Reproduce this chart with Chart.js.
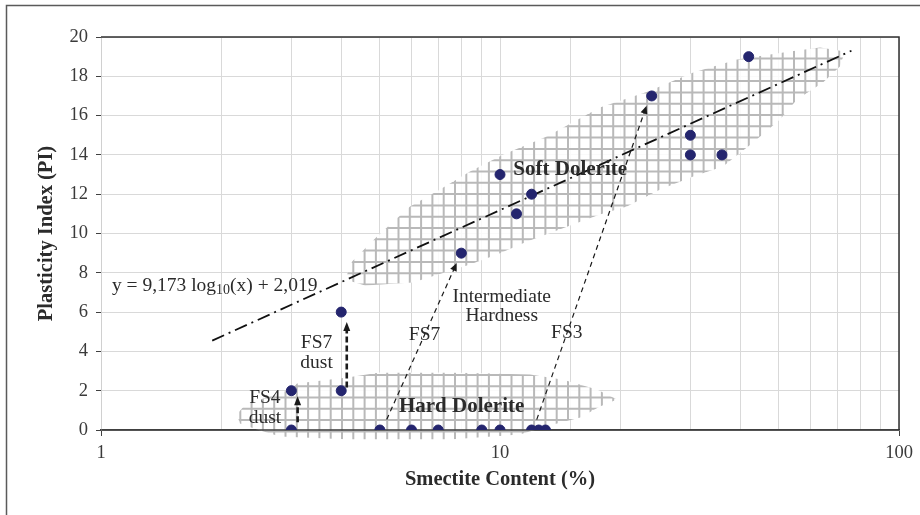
<!DOCTYPE html>
<html lang="en">
<head>
<meta charset="UTF-8">
<title>Plasticity Index vs Smectite Content</title>
<script src="https://cdn.jsdelivr.net/npm/chart.js"></script>
<style>
    body { margin: 0; background: #fff; }
    .chart-box { position: relative; width: 920px; height: 515px; }
</style>
</head>
<body>
<div class="chart-box"><canvas id="piChart"></canvas></div>
<script>
// measured samples
const smectite   = [3, 3, 4, 4, 5, 6, 7, 9, 10, 12, 12.5, 13, 8, 10, 11, 12, 24, 30, 30, 36, 42];
const plasticity = [0, 2, 2, 6, 0, 0, 0, 0, 0, 0, 0, 0, 9, 13, 11, 12, 17, 15, 14, 14, 19];

// fitted line, read at both ends
const trendX = [1.9, 76];
const trendY = [4.55, 19.3];

// outlines of the hatched zones (data units)
const softX = [4.09, 4.26, 4.92, 5.95, 7.07, 8.41, 10.2, 13.1, 17.8, 23.4, 30.5, 39.3, 53.3, 63.4, 73.2,
               71.1, 64.5, 55.5, 50.3, 43.1, 36.2, 30.5, 25.2, 20.8, 17.8, 14.1, 11.7, 9.83, 8.41, 6.05, 4.59];
const softY = [7.66, 8.58, 9.85, 11.37, 12.24, 13.16, 14.02, 14.94, 16.41, 17.22, 18.19, 18.85, 19.26, 19.47, 19.26,
               18.5, 17.68, 16.82, 15.8, 14.63, 13.41, 12.9, 12.24, 11.37, 10.97, 10.2, 9.59, 8.93, 8.42, 7.51, 7.35];
const hardX = [2.19, 2.30, 2.98, 3.10, 4.14, 5.00, 7.49, 11.9, 14.4, 17.5, 19.65,
               17.8, 15.9, 13.6, 11.2, 7.49, 4.21, 2.81, 2.46, 2.23];
const hardY = [0.79, 1.30, 2.06, 2.37, 2.67, 2.93, 2.93, 2.82, 2.56, 2.06, 1.55,
               1.20, 0.64, 0.28, -0.23, -0.48, -0.48, -0.33, 0.03, 0.33];

// arrows: start -> tip
const arrowFromX = [3.11, 4.13, 5.2, 12.36];
const arrowFromY = [0.4, 2.16, 0.53, 0.53];
const arrowToX   = [3.11, 4.13, 7.79, 23.3];
const arrowToY   = [1.72, 5.49, 8.5, 16.5];

// notes
const noteText = ['Intermediate', 'Hardness', 'FS7', 'FS3', 'FS7', 'dust', 'FS4', 'dust'];
const noteX    = [10.1, 10.1, 6.47, 14.7, 3.47, 3.47, 2.575, 2.575];
const noteY    = [6.79, 5.83, 4.86, 4.96, 4.45, 3.43, 1.65, 0.64];
const zoneText = ['Soft Dolerite', 'Hard Dolerite'];
const zoneX    = [10.8, 5.58];
const zoneY    = [13.25, 1.2];

const xTicks = [1, 10, 100];
const yTicks = [0, 2, 4, 6, 8, 10, 12, 14, 16, 18, 20];

const serif = "'Liberation Serif', 'DejaVu Serif', serif";
const textColor = '#2b2b2b';

const zonePlugin = {
    id: 'zones',
    beforeDraw(chart) {
        const ctx = chart.ctx;
        ctx.save();
        ctx.fillStyle = '#fff';
        ctx.fillRect(0, 0, chart.width, chart.height);
        ctx.strokeStyle = '#5a5a5a';
        ctx.lineWidth = 1.5;
        ctx.beginPath();
        ctx.moveTo(6.5, chart.height);
        ctx.lineTo(6.5, 5.5);
        ctx.lineTo(chart.width, 5.5);
        ctx.stroke();
        ctx.restore();
    },
    beforeDatasetsDraw(chart) {
        const ctx = chart.ctx;
        const sx = chart.scales.x, sy = chart.scales.y;
        const area = chart.chartArea;
        [[softX, softY], [hardX, hardY]].forEach(([xs, ys]) => {
            const pts = xs.map((v, i) => [sx.getPixelForValue(v), sy.getPixelForValue(ys[i])]);
            const minX = Math.min(...pts.map(p => p[0])), maxX = Math.max(...pts.map(p => p[0]));
            const minY = Math.min(...pts.map(p => p[1])), maxY = Math.max(...pts.map(p => p[1]));
            ctx.save();
            ctx.beginPath();
            pts.forEach((p, i) => i ? ctx.lineTo(p[0], p[1]) : ctx.moveTo(p[0], p[1]));
            ctx.closePath();
            ctx.fillStyle = 'rgba(255,255,255,0.85)';
            ctx.fill();
            ctx.clip();
            ctx.strokeStyle = '#b9b9b9';
            ctx.lineWidth = 2;
            const step = 11.3;
            ctx.beginPath();
            for (let gx = Math.floor(minX / step) * step + 3; gx <= maxX; gx += step) {
                ctx.moveTo(gx, minY);
                ctx.lineTo(gx, maxY);
            }
            for (let gy = Math.floor(minY / step) * step + 2; gy <= maxY; gy += step) {
                ctx.moveTo(minX, gy);
                ctx.lineTo(maxX, gy);
            }
            ctx.stroke();
            ctx.restore();
        });
        // keep the x axis line visible over the hatching
        ctx.save();
        ctx.strokeStyle = '#404040';
        ctx.lineWidth = 1.5;
        ctx.beginPath();
        ctx.moveTo(area.left, area.bottom);
        ctx.lineTo(area.right, area.bottom);
        ctx.stroke();
        ctx.restore();
    },
    afterDatasetsDraw(chart) {
        const ctx = chart.ctx;
        const sx = chart.scales.x, sy = chart.scales.y;
        const area = chart.chartArea;
        ctx.save();

        // plot frame, top and right
        ctx.strokeStyle = '#303030';
        ctx.lineWidth = 1.5;
        ctx.beginPath();
        ctx.moveTo(area.left, area.top);
        ctx.lineTo(area.right, area.top);
        ctx.lineTo(area.right, area.bottom);
        ctx.stroke();

        // arrows
        arrowFromX.forEach((v, i) => {
            const x0 = sx.getPixelForValue(v), y0 = sy.getPixelForValue(arrowFromY[i]);
            const x1 = sx.getPixelForValue(arrowToX[i]), y1 = sy.getPixelForValue(arrowToY[i]);
            const bold = i < 2;
            const ang = Math.atan2(y1 - y0, x1 - x0);
            const head = bold ? 9 : 8;
            ctx.strokeStyle = '#1a1a1a';
            ctx.fillStyle = '#1a1a1a';
            ctx.lineWidth = bold ? 2.6 : 1.2;
            ctx.setLineDash(bold ? [6, 3] : [5, 4]);
            ctx.beginPath();
            ctx.moveTo(x0, y0);
            ctx.lineTo(x1 - Math.cos(ang) * head * 0.8, y1 - Math.sin(ang) * head * 0.8);
            ctx.stroke();
            ctx.setLineDash([]);
            ctx.beginPath();
            ctx.moveTo(x1, y1);
            ctx.lineTo(x1 - Math.cos(ang) * head + Math.sin(ang) * 3.5, y1 - Math.sin(ang) * head - Math.cos(ang) * 3.5);
            ctx.lineTo(x1 - Math.cos(ang) * head - Math.sin(ang) * 3.5, y1 - Math.sin(ang) * head + Math.cos(ang) * 3.5);
            ctx.closePath();
            ctx.fill();
        });

        // notes
        ctx.fillStyle = textColor;
        ctx.textBaseline = 'middle';
        ctx.textAlign = 'center';
        ctx.font = '19.5px ' + serif;
        noteText.forEach((t, i) => {
            ctx.fillText(t, sx.getPixelForValue(noteX[i]), sy.getPixelForValue(noteY[i]));
        });
        ctx.textAlign = 'left';
        ctx.font = 'bold 21px ' + serif;
        zoneText.forEach((t, i) => {
            ctx.fillText(t, sx.getPixelForValue(zoneX[i]), sy.getPixelForValue(zoneY[i]));
        });

        // equation with subscript
        let ex = sx.getPixelForValue(1.065);
        const ey = sy.getPixelForValue(7.35);
        const parts = [['y = 9,173 log', 19.5, 0], ['10', 14, 5], ['(x) + 2,019', 19.5, 0]];
        parts.forEach(([t, size, dy]) => {
            ctx.font = size + 'px ' + serif;
            ctx.fillText(t, ex, ey + dy);
            ex += ctx.measureText(t).width;
        });
        ctx.restore();
    }
};

new Chart(document.getElementById('piChart'), {
    type: 'scatter',
    data: {
        datasets: [{
            label: 'Samples',
            data: smectite.map((x, i) => ({ x: x, y: plasticity[i] })),
            backgroundColor: '#24256e',
            borderColor: '#24256e',
            pointRadius: 5,
            order: 1
        }, {
            label: 'Trend',
            data: trendX.map((x, i) => ({ x: x, y: trendY[i] })),
            showLine: true,
            borderColor: '#111',
            borderWidth: 1.8,
            borderDash: [13, 5, 2, 5],
            pointRadius: 0,
            order: 2
        }]
    },
    options: {
        responsive: true,
        maintainAspectRatio: false,
        animation: false,
        layout: { padding: { left: 10, right: 21, top: 37, bottom: 14 } },
        plugins: { legend: { display: false }, tooltip: { enabled: false } },
        scales: {
            x: {
                type: 'logarithmic',
                min: 1,
                max: 100,
                afterFit(scale) { scale.height = 71; },
                grid: {
                    color: '#d9d9d9',
                    tickLength: 6,
                    tickColor: c => (c.tick && xTicks.includes(c.tick.value)) ? '#404040' : 'rgba(0,0,0,0)'
                },
                border: { color: '#404040', width: 1.5 },
                ticks: {
                    autoSkip: false,
                    maxRotation: 0,
                    padding: 6,
                    color: '#3a3a3a',
                    font: { family: serif, size: 18.5 },
                    callback: v => xTicks.includes(v) ? String(v) : ''
                },
                title: {
                    display: true,
                    text: 'Smectite Content (%)',
                    color: textColor,
                    font: { family: serif, size: 20.5, weight: 'bold' },
                    padding: { top: 0, bottom: 9 }
                }
            },
            y: {
                min: 0,
                max: 20,
                afterFit(scale) { scale.width = 91; },
                afterBuildTicks(scale) { scale.ticks = yTicks.map(v => ({ value: v })); },
                grid: { color: '#d9d9d9', tickLength: 5, tickColor: '#404040' },
                border: { color: '#d0d0d0', width: 1 },
                ticks: {
                    padding: 8,
                    color: '#3a3a3a',
                    font: { family: serif, size: 18.5 }
                },
                title: {
                    display: true,
                    text: 'Plasticity Index (PI)',
                    color: textColor,
                    font: { family: serif, size: 20.5, weight: 'bold' },
                    padding: { top: 24, bottom: 0 }
                }
            }
        }
    },
    plugins: [zonePlugin]
});
</script>
</body>
</html>
